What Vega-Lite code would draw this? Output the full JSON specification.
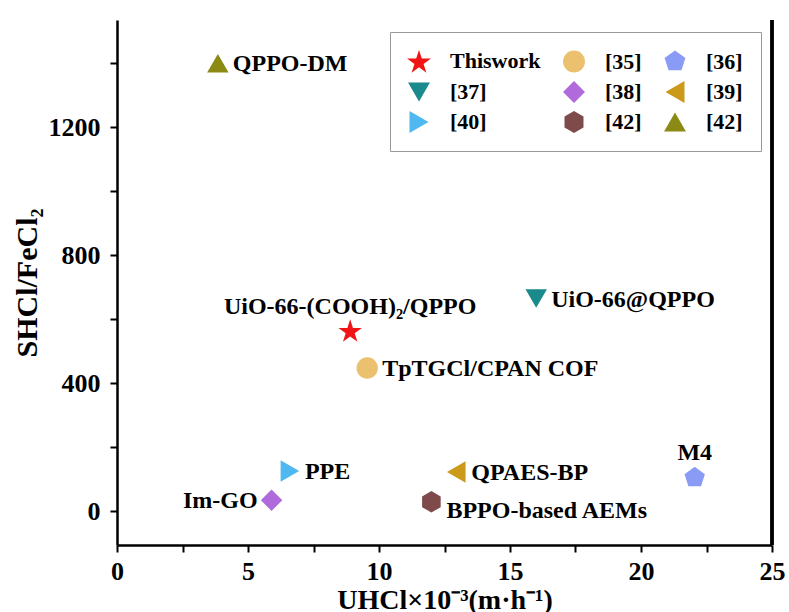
{
  "$schema": "https://vega.github.io/schema/vega-lite/v6.json",
  "autosize": {"type": "none"},
  "width": 655,
  "height": 525,
  "padding": {"left": 117, "top": 20, "right": 17, "bottom": 67},
  "background": "white",
  "config": {
    "font": "Liberation Serif",
    "view": {"stroke": null},
    "text": {"font": "Liberation Serif", "fontWeight": "bold", "fontSize": 24, "color": "black"}
  },
  "data": {
    "values": [
      {"series": "Thiswork", "u": 8.9, "s": 565, "label": "UiO-66-(COOH)₂/QPPO", "pos": "above"},
      {"series": "[35]", "u": 9.55, "s": 448, "label": "TpTGCl/CPAN COF", "pos": "right"},
      {"series": "[36]", "u": 22.05, "s": 106, "label": "M4", "pos": "above"},
      {"series": "[37]", "u": 16.0, "s": 665, "label": "UiO-66@QPPO", "pos": "right"},
      {"series": "[38]", "u": 5.9, "s": 35, "label": "Im-GO", "pos": "left"},
      {"series": "[39]", "u": 12.95, "s": 123, "label": "QPAES-BP", "pos": "right"},
      {"series": "[40]", "u": 6.6, "s": 126, "label": "PPE", "pos": "right"},
      {"series": "[42]", "u": 12.0, "s": 30, "label": "BPPO-based AEMs", "pos": "rightbelow"},
      {"series": "[42]b", "u": 3.85, "s": 1400, "label": "QPPO-DM", "pos": "right"}
    ]
  },
  "layer": [
    {
      "mark": {"type": "point", "filled": true, "opacity": 1, "size": 460},
      "encoding": {
        "x": {
          "field": "u", "type": "quantitative",
          "scale": {"domain": [0, 25], "nice": false, "zero": false},
          "axis": {
            "title": "UHCl×10⁻³(m·h⁻¹)",
            "titleFontSize": 28, "titleFontWeight": "bold", "titleColor": "black", "titlePadding": 2,
            "values": [0, 2.5, 5, 7.5, 10, 12.5, 15, 17.5, 20, 22.5, 25],
            "labelExpr": "datum.value % 5 === 0 ? datum.label : ''",
            "labelFontSize": 26, "labelFontWeight": "bold", "labelColor": "black", "labelPadding": 6,
            "domainColor": "black", "domainWidth": 2.5,
            "tickColor": "black", "tickWidth": 2, "tickSize": 7,
            "grid": false, "labelFlush": false, "labelOverlap": false
          }
        },
        "y": {
          "field": "s", "type": "quantitative",
          "scale": {"domain": [-105, 1535], "nice": false, "zero": false},
          "axis": {
            "title": "SHCl/FeCl₂",
            "titleFontSize": 30, "titleFontWeight": "bold", "titleColor": "black", "titlePadding": 6,
            "values": [0, 200, 400, 600, 800, 1000, 1200, 1400],
            "labelExpr": "datum.value % 400 === 0 ? datum.value : ''",
            "labelFontSize": 26, "labelFontWeight": "bold", "labelColor": "black", "labelPadding": 10,
            "domainColor": "black", "domainWidth": 2.5,
            "tickColor": "black", "tickWidth": 2, "tickSize": 7,
            "grid": false, "labelOverlap": false
          }
        },
        "shape": {
          "field": "series", "type": "nominal",
          "scale": {
            "domain": ["Thiswork", "[35]", "[36]", "[37]", "[38]", "[39]", "[40]", "[42]", "[42]b"],
            "range": [
              "M0,-1.04L0.258,-0.245L1.094,-0.245L0.417,0.246L0.676,1.04L0,0.549L-0.676,1.04L-0.417,0.246L-1.094,-0.245L-0.258,-0.245Z",
              "circle",
              "M0,-1L0.951,-0.309L0.588,0.809L-0.588,0.809L-0.951,-0.309Z",
              "triangle-down",
              "diamond",
              "triangle-left",
              "triangle-right",
              "M0,-1L0.866,-0.5L0.866,0.5L0,1L-0.866,0.5L-0.866,-0.5Z",
              "triangle-up"
            ]
          },
          "legend": {
            "title": null, "orient": "none", "legendX": 273, "legendY": 12, "direction": "horizontal", "columns": 3,
            "padding": 18, "strokeColor": "#999999", "fillColor": "white",
            "symbolSize": 480, "symbolOpacity": 1, "symbolStrokeWidth": 0,
            "labelExpr": "replace(datum.label, 'b', '')",
            "labelFontSize": 22, "labelFontWeight": "bold", "labelColor": "black",
            "labelOffset": 20, "columnPadding": 22, "rowPadding": 8
          }
        },
        "color": {
          "field": "series", "type": "nominal",
          "scale": {
            "domain": ["Thiswork", "[35]", "[36]", "[37]", "[38]", "[39]", "[40]", "[42]", "[42]b"],
            "range": ["#F01414", "#EBC06E", "#8A9BF5", "#1B8A8C", "#B06ADB", "#CC9A1A", "#4FB8F0", "#7E4A4A", "#8A8A14"]
          }
        }
      }
    },
    {
      "transform": [{"filter": "datum.pos === 'right'"}],
      "mark": {"type": "text", "align": "left", "baseline": "middle", "dx": 15, "dy": 1},
      "encoding": {"text": {"field": "label"}, "x": {"field": "u", "type": "quantitative"}, "y": {"field": "s", "type": "quantitative"}}
    },
    {
      "transform": [{"filter": "datum.pos === 'rightbelow'"}],
      "mark": {"type": "text", "align": "left", "baseline": "middle", "dx": 15, "dy": 9},
      "encoding": {"text": {"field": "label"}, "x": {"field": "u", "type": "quantitative"}, "y": {"field": "s", "type": "quantitative"}}
    },
    {
      "transform": [{"filter": "datum.pos === 'above'"}],
      "mark": {"type": "text", "align": "center", "baseline": "middle", "dy": -24},
      "encoding": {"text": {"field": "label"}, "x": {"field": "u", "type": "quantitative"}, "y": {"field": "s", "type": "quantitative"}}
    },
    {
      "transform": [{"filter": "datum.pos === 'left'"}],
      "mark": {"type": "text", "align": "right", "baseline": "middle", "dx": -14, "dy": 1},
      "encoding": {"text": {"field": "label"}, "x": {"field": "u", "type": "quantitative"}, "y": {"field": "s", "type": "quantitative"}}
    },
    {
      "mark": {"type": "rule", "color": "black", "strokeWidth": 2.5},
      "encoding": {"x": {"datum": 25}}
    }
  ]
}
